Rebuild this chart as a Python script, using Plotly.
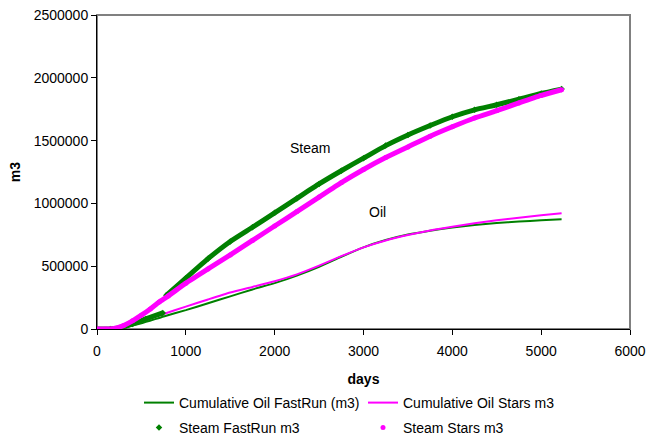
import plotly.graph_objects as go

# Cumulative oil production (m3) by day
oil_days = [0, 150, 250, 500, 750, 1000, 1250, 1500, 1750, 2000, 2250, 2500, 2750,
            3000, 3250, 3500, 3750, 4000, 4250, 4500, 4750, 5000, 5230]
oil_fastrun = [0, 0, 3000, 45000, 100000, 150000, 205000, 260000, 315000, 365000,
               425000, 495000, 575000, 650000, 708000, 752000, 783000, 808000,
               828000, 843000, 855000, 866000, 873000]
oil_stars = [0, 0, 10000, 60000, 120000, 178000, 235000, 290000, 335000, 380000,
             435000, 505000, 580000, 650000, 705000, 748000, 785000, 815000,
             842000, 865000, 885000, 905000, 921000]

# Cumulative steam injection (m3); FastRun has a restart at ~760 days (None = break)
steam_fastrun_days = [0, 150, 250, 400, 550, 740, None, 780, 1000, 1250, 1500, 1750,
                      2000, 2250, 2500, 2750, 3000, 3250, 3500, 3750, 4000, 4250,
                      4500, 4750, 5000, 5230]
steam_fastrun = [0, 0, 8000, 40000, 80000, 128000, None, 268000, 405000, 560000,
                 697000, 810000, 925000, 1040000, 1155000, 1260000, 1360000,
                 1460000, 1545000, 1620000, 1690000, 1745000, 1785000, 1830000,
                 1875000, 1910000]

steam_stars_days = [0, 100, 150, 200, 300, 400, 500, 600, 700, 800, 1000, 1250, 1500,
                    1750, 2000, 2250, 2500, 2750, 3000, 3250, 3500, 3750, 4000,
                    4250, 4500, 4750, 5000, 5230]
steam_stars = [0, 0, 0, 5000, 28000, 65000, 110000, 160000, 215000, 262000, 365000,
               478000, 590000, 705000, 820000, 935000, 1050000, 1165000, 1270000,
               1365000, 1450000, 1535000, 1610000, 1680000, 1738000, 1800000,
               1860000, 1905000]

GREEN = "#008000"
MAGENTA = "#FF00FF"
FONT = "Liberation Sans, Arial, sans-serif"

fig = go.Figure()

fig.add_trace(go.Scatter(x=oil_days, y=oil_fastrun, mode="lines",
                         name="Cumulative Oil FastRun (m3)",
                         line=dict(color=GREEN, width=2, shape="spline", smoothing=0.5)))
fig.add_trace(go.Scatter(x=oil_days, y=oil_stars, mode="lines",
                         name="Cumulative Oil Stars m3",
                         line=dict(color=MAGENTA, width=2, shape="spline", smoothing=0.5)))

# Steam series: dense marker band drawn as a thick line plus markers
fig.add_trace(go.Scatter(x=steam_fastrun_days, y=steam_fastrun, mode="lines",
                         showlegend=False, hoverinfo="skip", connectgaps=False,
                         line=dict(color=GREEN, width=5, shape="spline", smoothing=0.5)))
fig.add_trace(go.Scatter(x=steam_fastrun_days, y=steam_fastrun, mode="markers",
                         name="Steam FastRun m3", legend="legend2",
                         marker=dict(color=GREEN, size=5, symbol="diamond")))
fig.add_trace(go.Scatter(x=steam_stars_days, y=steam_stars, mode="lines",
                         showlegend=False, hoverinfo="skip",
                         line=dict(color=MAGENTA, width=5, shape="spline", smoothing=0.5)))
fig.add_trace(go.Scatter(x=steam_stars_days, y=steam_stars, mode="markers",
                         name="Steam Stars m3", legend="legend2",
                         marker=dict(color=MAGENTA, size=5, symbol="circle")))

fig.add_annotation(x=2400, y=1440000, text="Steam", showarrow=False,
                   font=dict(size=14, color="black", family=FONT))
fig.add_annotation(x=3160, y=932000, text="Oil", showarrow=False,
                   font=dict(size=14, color="black", family=FONT))

# gray frame on top and right of the plot area
fig.add_shape(type="rect", xref="paper", yref="paper", x0=0, y0=0, x1=1, y1=1,
              line=dict(color="#808080", width=2), layer="below")

legend_style = dict(orientation="h", xref="container", yref="container",
                    x=139 / 646, xanchor="left", yanchor="top",
                    entrywidth=179, entrywidthmode="pixels",
                    font=dict(size=14, family=FONT), bgcolor="rgba(0,0,0,0)",
                    itemwidth=30)

fig.update_layout(
    width=646, height=438,
    margin=dict(l=97, r=16, t=15, b=109, autoexpand=False),
    paper_bgcolor="white", plot_bgcolor="white",
    font=dict(family=FONT, size=14, color="black"),
    showlegend=True,
    legend=dict(legend_style, y=1 - 387 / 438),
    legend2=dict(legend_style, y=1 - 412 / 438),
    xaxis=dict(range=[0, 6000], tickvals=[0, 1000, 2000, 3000, 4000, 5000, 6000],
               showgrid=False, zeroline=False, showline=True, linecolor="black",
               linewidth=1, ticks="outside", ticklen=5, tickcolor="black",
               tickfont=dict(size=14), tickformat="d", ticklabelstandoff=4,
               automargin=False,
               title=dict(text="<b>days</b>", font=dict(size=14), standoff=16)),
    yaxis=dict(range=[0, 2500000], tickvals=[0, 500000, 1000000, 1500000, 2000000, 2500000],
               showgrid=False, zeroline=False, showline=True, linecolor="black",
               linewidth=1, ticks="outside", ticklen=5, tickcolor="black",
               tickfont=dict(size=14), tickformat="d", automargin=False,
               title=dict(text="<b>m3</b>", font=dict(size=14), standoff=9)),
)

fig.write_html("out.html")
